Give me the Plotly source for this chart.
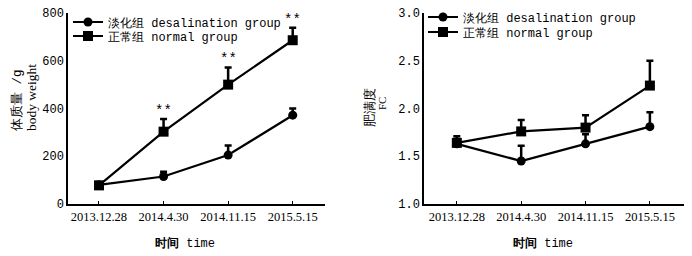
import plotly.graph_objects as go

dates = ["2013.12.28", "2014.4.30", "2014.11.15", "2015.5.15"]

# Body weight (g)
bw_desal = [80, 115, 205, 372]
bw_desal_err = [12, 20, 40, 28]
bw_normal = [78, 303, 500, 686]
bw_normal_err = [12, 53, 72, 52]
bw_sig = ["", "**", "**", "**"]

# Condition factor FC
fc_desal = [1.63, 1.45, 1.63, 1.81]
fc_desal_err = [0.05, 0.16, 0.10, 0.15]
fc_normal = [1.64, 1.76, 1.80, 2.24]
fc_normal_err = [0.07, 0.12, 0.13, 0.26]

name_desal = "淡化组 desalination group"
name_normal = "正常组 normal group"

mono = "Liberation Mono"
serif = "Liberation Serif"

# page body has an 8px margin: figure drawn at (8, 8)
OFF = 8
W, H = 692 - OFF, 256 - OFF


def px(xr):
    return (xr - OFF) / W


def py(yr):
    return 1 - (yr - OFF) / H


fig = go.Figure()


def add_series(y, err, name, symbol, msize, xa, ya, legend):
    fig.add_trace(go.Scatter(
        x=dates, y=y, name=name, mode="lines+markers",
        xaxis=xa, yaxis=ya, legend=legend,
        line=dict(color="black", width=2.2),
        marker=dict(symbol=symbol, size=msize, color="black"),
        error_y=dict(type="data", array=err, arrayminus=[0] * len(err),
                     symmetric=False, color="black", thickness=2.5, width=3.5),
    ))


add_series(bw_desal, bw_desal_err, name_desal, "circle", 9, "x", "y", "legend")
add_series(bw_normal, bw_normal_err, name_normal, "square", 10, "x", "y", "legend2")
add_series(fc_desal, fc_desal_err, name_desal, "circle", 9, "x2", "y2", "legend3")
add_series(fc_normal, fc_normal_err, name_normal, "square", 10, "x2", "y2", "legend4")

yd = [py(204), py(13)]

axis_common = dict(showline=True, linecolor="black", linewidth=1.5, showgrid=False,
                   zeroline=False, automargin=False)
xt = dict(ticks="inside", ticklen=3, tickcolor="black",
          tickfont=dict(family=serif, size=12.5, color="black"))
yt = dict(ticks="", ticklabeloverflow="allow",
          tickfont=dict(family=mono, size=12, color="black"))


def leg(xr, yr):
    return dict(x=px(xr), y=py(yr), xanchor="left", yanchor="middle",
                bgcolor="rgba(0,0,0,0)", borderwidth=0,
                font=dict(family=mono, size=12, color="black"), itemwidth=30)


fig.update_layout(
    width=W, height=H, margin=dict(l=0, r=0, t=0, b=0, autoexpand=False),
    paper_bgcolor="white", plot_bgcolor="white",
    xaxis=dict(domain=[px(68), px(325)], type="category", range=[-0.48, 3.5],
               anchor="y", **axis_common, **xt),
    yaxis=dict(domain=yd, range=[0, 800], tickvals=[0, 200, 400, 600, 800],
               anchor="x", **axis_common, **yt),
    xaxis2=dict(domain=[px(424), px(684)], type="category", range=[-0.51, 3.53],
                anchor="y2", **axis_common, **xt),
    yaxis2=dict(domain=yd, range=[1.0, 3.0], tickvals=[1.0, 1.5, 2.0, 2.5, 3.0],
                tickformat=".1f", anchor="x2", **axis_common, **yt),
    legend=leg(68, 22),
    legend2=leg(68, 36),
    legend3=leg(423, 17),
    legend4=leg(423, 32),
    showlegend=True,
)

ann = []
for d, v, e, s in zip(dates, bw_normal, bw_normal_err, bw_sig):
    if s:
        ann.append(dict(x=d, y=v + e, xref="x", yref="y", text=s, showarrow=False,
                        xanchor="center", yanchor="bottom", yshift=-2,
                        font=dict(family=mono, size=14, color="black")))


def txt(xr, yr, text, family, size, angle=0):
    return dict(x=px(xr), y=py(yr), xref="paper", yref="paper", text=text,
                textangle=angle, showarrow=False, xanchor="center", yanchor="middle",
                font=dict(family=family, size=size, color="black"))


ann += [
    txt(185, 243, "<b>时间</b> time", mono, 12),
    txt(543, 243, "<b>时间</b> time", mono, 12),
    txt(17, 100, "体质量 /g", mono, 12.5, -90),
    txt(31, 98, "body weight", serif, 13.5, -90),
    txt(369, 108, "肥满度", serif, 13, -90),
    txt(382, 104, "FC", serif, 11, -90),
]
fig.update_layout(annotations=ann)

fig.write_html("out.html")
